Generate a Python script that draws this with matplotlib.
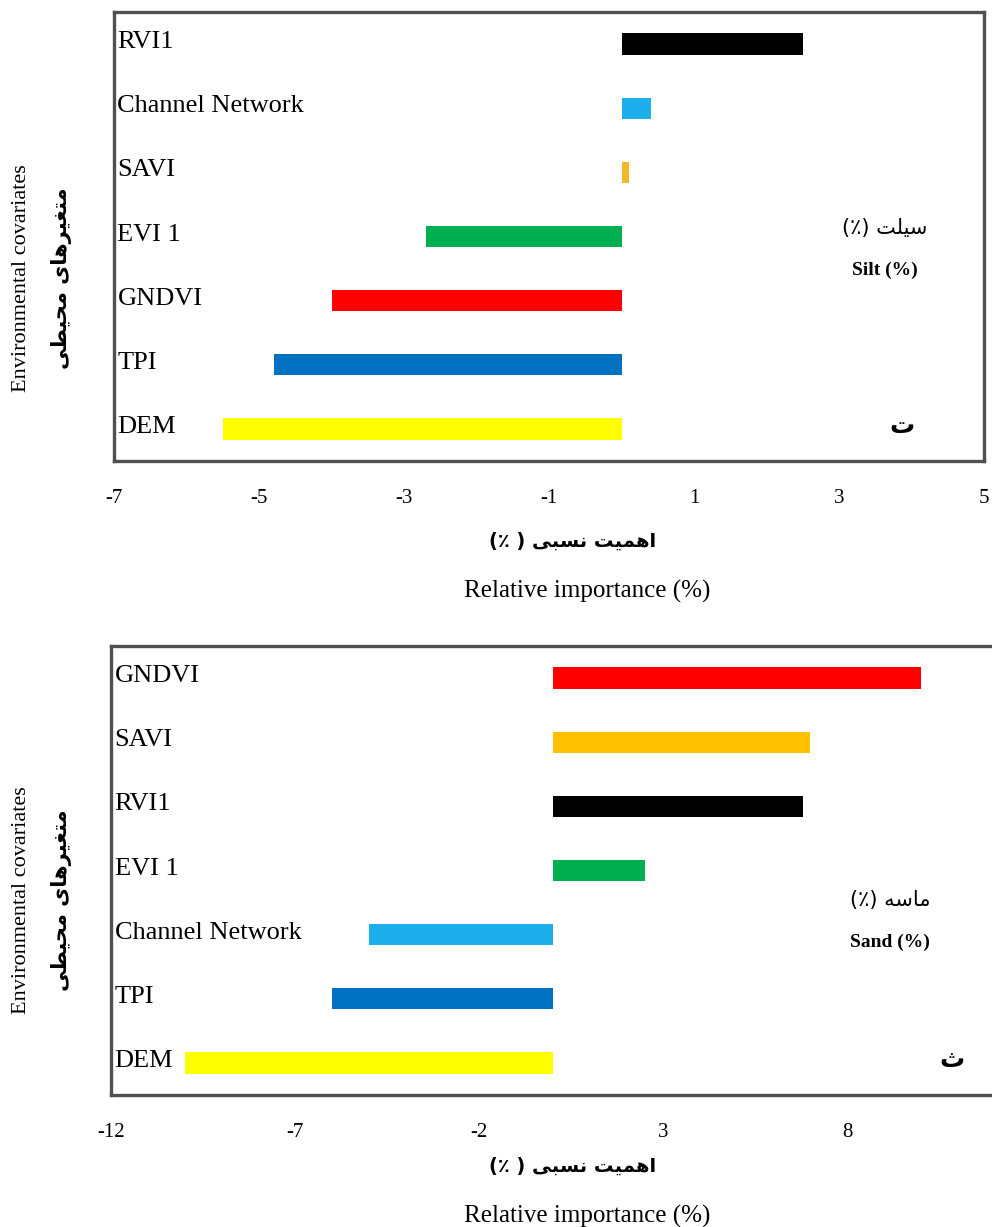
import matplotlib
matplotlib.use("Agg")
import matplotlib.pyplot as plt
import matplotlib.transforms as mtransforms

plt.rcParams["axes.unicode_minus"] = False

# Top panel: silt
silt_names = ["DEM", "TPI", "GNDVI", "EVI 1", "SAVI", "Channel Network", "RVI1"]
silt_values = [-5.5, -4.8, -4.0, -2.7, 0.1, 0.4, 2.5]
silt_colors = ["#FFFF00", "#0070C0", "#FF0000", "#00B050", "#F0B82A", "#1CAFEC", "#000000"]
silt_ticks = [-7, -5, -3, -1, 1, 3, 5]

# Bottom panel: sand
sand_names = ["DEM", "TPI", "Channel Network", "EVI 1", "RVI1", "SAVI", "GNDVI"]
sand_values = [-10.0, -6.0, -5.0, 2.5, 6.8, 7.0, 10.0]
sand_colors = ["#FFFF00", "#0070C0", "#1CAFEC", "#00B050", "#000000", "#FFC000", "#FF0000"]
sand_ticks = [-12, -7, -2, 3, 8]

# minimal Persian shaping (matplotlib draws no contextual forms / RTL)
FORMS = {
    "ا": ("\uFE8D", "\uFE8E", None, None),
    "ب": ("\uFE8F", "\uFE90", "\uFE91", "\uFE92"),
    "ت": ("\uFE95", "\uFE96", "\uFE97", "\uFE98"),
    "ث": ("\uFE99", "\uFE9A", "\uFE9B", "\uFE9C"),
    "ح": ("\uFEA1", "\uFEA2", "\uFEA3", "\uFEA4"),
    "ر": ("\uFEAD", "\uFEAE", None, None),
    "س": ("\uFEB1", "\uFEB2", "\uFEB3", "\uFEB4"),
    "ط": ("\uFEC1", "\uFEC2", "\uFEC3", "\uFEC4"),
    "غ": ("\uFECD", "\uFECE", "\uFECF", "\uFED0"),
    "ل": ("\uFEDD", "\uFEDE", "\uFEDF", "\uFEE0"),
    "م": ("\uFEE1", "\uFEE2", "\uFEE3", "\uFEE4"),
    "ن": ("\uFEE5", "\uFEE6", "\uFEE7", "\uFEE8"),
    "ه": ("\uFEE9", "\uFEEA", "\uFEEB", "\uFEEC"),
    "ی": ("\uFEEF", "\uFEF0", "\uFEF3", "\uFEF4"),
}
NON_JOIN_NEXT = set("ار")
MIRROR = {"(": ")", ")": "("}


def fa(text):
    out = []
    for i, c in enumerate(text):
        if c not in FORMS:
            out.append(MIRROR.get(c, c))
            continue
        prev = text[i - 1] if i > 0 else None
        nxt = text[i + 1] if i + 1 < len(text) else None
        jp = prev in FORMS and prev not in NON_JOIN_NEXT
        jn = nxt in FORMS and c not in NON_JOIN_NEXT
        iso, fin, ini, med = FORMS[c]
        if jp and jn:
            out.append(med)
        elif jp:
            out.append(fin)
        elif jn:
            out.append(ini)
        else:
            out.append(iso)
    return "".join(reversed(out))


SERIF = "Liberation Serif"
ARAB = "DejaVu Sans"
W, H = 992, 1227

fig = plt.figure(figsize=(W / 100, H / 100), dpi=100)


def panel(rect, names, values, colors, ticks, xlim, fa_name, en_name, letter,
          note_xy, letter_xy, ylab_y, xlab_y):
    l, t, r, b = rect
    ax = fig.add_axes([l / W, 1 - b / H, (r - l) / W, (b - t) / H])
    pos = list(range(len(names)))
    ax.barh(pos, values, height=0.33, color=colors)
    ax.set_xlim(*xlim)
    ax.set_ylim(-0.5, 6.5)
    ax.set_yticks([])
    ax.set_xticks(ticks)
    ax.set_xticklabels([str(t) for t in ticks], fontfamily=SERIF, fontsize=15)
    ax.tick_params(axis="x", length=0, pad=20)
    for s in ax.spines.values():
        s.set_linewidth(2.4)
        s.set_color("#505050")
    trans = mtransforms.blended_transform_factory(ax.transAxes, ax.transData)
    for p, n in zip(pos, names):
        ax.text(0.004, p + 0.03, n, transform=trans, ha="left", va="center",
                fontfamily=SERIF, fontsize=19)

    # in-plot labels
    fig.text(note_xy[0] / W, 1 - note_xy[1] / H, "(٪) " + fa(fa_name),
             ha="center", va="center", fontfamily=ARAB, fontsize=15)
    fig.text(note_xy[0] / W, 1 - (note_xy[1] + 42) / H, en_name,
             ha="center", va="center", fontfamily=SERIF, fontsize=14, fontweight="bold")
    fig.text(letter_xy[0] / W, 1 - letter_xy[1] / H, fa(letter),
             ha="center", va="center", fontfamily=ARAB, fontsize=18, fontweight="bold")

    # axis titles
    fig.text(22 / W, 1 - ylab_y / H, "Environmental covariates", rotation=90,
             ha="center", va="center", fontfamily=SERIF, fontsize=16)
    fig.text(62 / W, 1 - ylab_y / H, fa("متغیرهای محیطی"), rotation=90,
             ha="center", va="center", fontfamily=ARAB, fontsize=15, fontweight="bold")
    fig.text(573 / W, 1 - xlab_y / H, "(٪ ) " + fa("اهمیت نسبی"),
             ha="center", va="center", fontfamily=ARAB, fontsize=14, fontweight="bold")
    fig.text(587 / W, 1 - (xlab_y + 50) / H, "Relative importance (%)",
             ha="center", va="center", fontfamily=SERIF, fontsize=18)
    return ax


panel((114, 12, 984, 461), silt_names, silt_values, silt_colors, silt_ticks, (-7, 5),
      "سیلت", "Silt (%)", "ت", (885, 228), (902, 426), 278, 541)
panel((111, 646, 1031, 1095), sand_names, sand_values, sand_colors, sand_ticks, (-12, 13),
      "ماسه", "Sand (%)", "ث", (890, 900), (952, 1060), 900, 1166)

fig.savefig("out.png", dpi=100)
